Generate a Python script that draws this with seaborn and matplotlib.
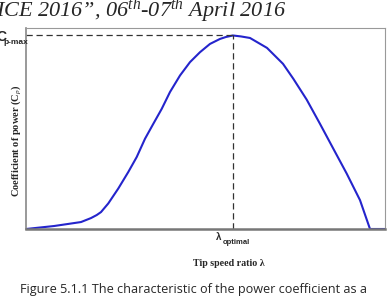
import matplotlib
matplotlib.use("Agg")
import matplotlib.pyplot as plt
import seaborn as sns
import pandas as pd

# Data (lambda, Cp)
tip_speed_ratio = [0.0, 1.092, 2.145, 2.535, 2.757, 2.925, 3.209, 3.599, 3.989, 4.317,
                   4.641, 4.964, 5.292, 5.616, 6.006, 6.395, 6.785, 7.175, 7.565, 7.799,
                   8.072, 8.384, 8.735, 9.398, 10.022, 10.424, 10.946, 11.465, 11.984,
                   12.506, 13.025, 13.415, 14.0]
power_coeff = [0.0, 0.0074, 0.0173, 0.0272, 0.0347, 0.0421, 0.0636, 0.1007, 0.1418, 0.179,
               0.2245, 0.2616, 0.2988, 0.3408, 0.3819, 0.4151, 0.4398, 0.4604, 0.4728, 0.4777,
               0.4814, 0.4790, 0.4752, 0.4505, 0.4109, 0.3738, 0.3218, 0.2616, 0.1998,
               0.1379, 0.0718, 0.0, 0.0]
lambda_opt = 8.072
cp_max = 0.4814

df = pd.DataFrame({"lambda": tip_speed_ratio, "cp": power_coeff})

sns.set_style("white")
plt.rcParams['font.family'] = ['DejaVu Sans']
plt.rcParams['mathtext.fontset'] = 'custom'
plt.rcParams['mathtext.it'] = 'Liberation Serif:italic'
plt.rcParams['mathtext.rm'] = 'Liberation Serif:italic'

fig = plt.figure(figsize=(3.92, 3.02), dpi=100)
ax = fig.add_axes([26/392, 1-229/302, (385-26)/392, (229-28)/302])

sns.lineplot(data=df, x="lambda", y="cp", ax=ax, color="#2424cc", linewidth=1.5, sort=False)
ax.plot([0, lambda_opt], [cp_max, cp_max], linestyle=(0, (5, 3)), color="#333333", linewidth=0.9)
ax.plot([lambda_opt, lambda_opt], [0, cp_max], linestyle=(0, (5, 3)), color="#333333", linewidth=0.9)

ax.set_xlim(0, 14)
ax.set_ylim(0, 0.5)
ax.set_xticks([])
ax.set_yticks([])
ax.set_xlabel("")
ax.set_ylabel("")
for side in ["top", "right"]:
    ax.spines[side].set_color("#999999")
    ax.spines[side].set_linewidth(0.8)
ax.spines["left"].set_color("#888888")
ax.spines["left"].set_linewidth(1.2)
ax.spines["bottom"].set_color("#777777")
ax.spines["bottom"].set_linewidth(1.8)

# Header text (cropped)
fig.text(-4/392, 1-17/302, "ICE 2016\u201d, 06$^{th}$-07$^{th}$ April 2016",
         family="Liberation Serif", style="italic", fontsize=16, ha="left", va="baseline")

# Cp-max label
fig.text(-4/392, 1-37/302, "C", family="Liberation Sans", weight="bold", fontsize=10,
         ha="left", va="center")
fig.text(3/392, 1-43/302, "p-max", family="Liberation Sans", weight="bold", fontsize=6,
         ha="left", va="center")

# Y label
fig.text(16/392, 1-141/302, "Coefficient of power (C$_p$)", family="Liberation Serif",
         weight="bold", fontsize=7.5, rotation=90, ha="center", va="center")

# lambda optimal
fig.text(219/392, 1-237/302, "\u03bb", family="Liberation Sans", weight="bold", fontsize=7,
         ha="center", va="center")
fig.text(236/392, 1-242/302, "optimal", family="Liberation Sans", weight="bold", fontsize=5.5,
         ha="center", va="center")

fig.text(229/392, 1-263/302, "Tip speed ratio \u03bb", family="Liberation Serif",
         weight="bold", fontsize=7.2, ha="center", va="center")

fig.text(193/392, 1-290/302, "Figure 5.1.1 The characteristic of the power coefficient as a",
         family="Open Sans", fontsize=9.1, ha="center", va="center")

fig.savefig("out.png", dpi=100)
